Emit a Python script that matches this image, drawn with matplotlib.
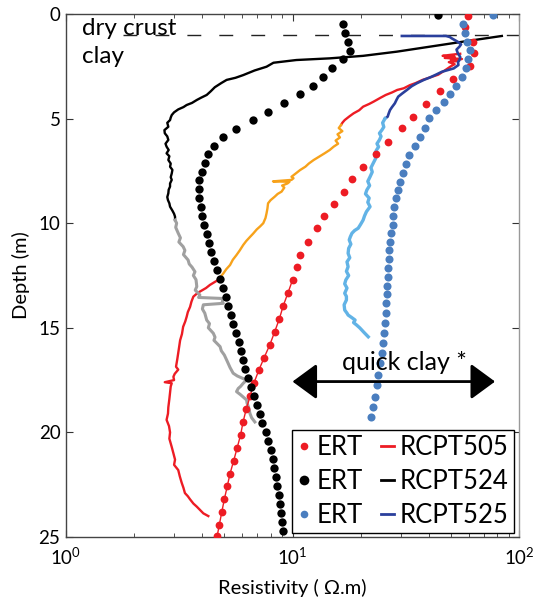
import matplotlib
matplotlib.use('Agg')
import matplotlib.pyplot as plt
import numpy as np
from matplotlib.ticker import FixedLocator, FuncFormatter, LogLocator, NullFormatter
from matplotlib.lines import Line2D

plt.rcParams['font.family'] = ['Lato', 'DejaVu Sans']
plt.rcParams['mathtext.default'] = 'regular'

# ---------------- data ----------------
# ERT profiles (depth in m, resistivity in ohm.m)
ert_red_depth = [0.08, 0.64, 1.32, 1.88, 2.49, 3.11, 3.67, 4.30, 4.91, 5.46, 6.10, 6.69, 7.30, 7.90,
                 8.49, 9.08, 9.66, 10.24, 10.88, 11.52, 12.11, 12.72, 13.33, 13.95, 14.57, 15.18,
                 15.8, 16.42, 17.03, 17.65, 18.27, 18.88, 19.5, 20.12, 20.73, 21.35, 21.97, 22.58,
                 23.2, 23.82, 24.43, 24.95]
ert_red_res = [59.5, 58, 62.7, 63.6, 60.8, 51.3, 45, 39, 34, 30.5, 26.5, 23.4, 20.5, 18.4,
               16.8, 15.2, 13.8, 12.8, 11.7, 10.8, 10.45, 10.0, 9.55, 9.1, 8.75, 8.35,
               7.95, 7.5, 7.1, 6.75, 6.5, 6.25, 6.05, 5.9, 5.7, 5.5, 5.3, 5.15,
               5.0, 4.87, 4.75, 4.65]

ert_black_depth = [0.05, 0.48, 0.92, 1.32, 1.75, 2.17, 2.6, 3.0, 3.44, 3.84, 4.27, 4.67, 5.07, 5.5,
                   5.89, 6.3, 6.71, 7.14, 7.54, 7.93, 8.36, 8.79, 9.22, 9.65, 10.08, 10.51, 10.94,
                   11.37, 11.8, 12.23, 12.66, 13.09, 13.52, 13.95, 14.38, 14.81, 15.24, 15.67, 16.1,
                   16.53, 16.96, 17.39, 17.82, 18.25, 18.68, 19.11, 19.54, 19.97, 20.4, 20.83, 21.26,
                   21.69, 22.12, 22.55, 22.98, 23.41, 23.84, 24.27, 24.7]
ert_black_res = [44, 16.7, 17.1, 17.5, 17.95, 16.7, 14.9, 13.6, 12.35, 10.8, 9.2, 7.77, 6.67, 5.62,
                 4.92, 4.52, 4.25, 4.11, 3.97, 3.88, 3.87, 3.88, 3.94, 4.0, 4.08, 4.18, 4.28,
                 4.38, 4.5, 4.65, 4.8, 4.92, 5.07, 5.2, 5.33, 5.46, 5.62, 5.78, 5.92,
                 6.06, 6.2, 6.36, 6.55, 6.75, 6.97, 7.15, 7.35, 7.6, 7.82, 8.0, 8.17,
                 8.32, 8.45, 8.58, 8.72, 8.84, 8.94, 9.03, 9.1]

ert_blue_depth = [0.05, 0.48, 0.9, 1.33, 1.72, 2.17, 2.6, 2.99, 3.44, 3.82, 4.19, 4.59, 4.99, 5.43,
                  5.86, 6.31, 6.74, 7.17, 7.59, 8.02, 8.41, 8.81, 9.21, 9.66, 10.09, 10.48, 10.88,
                  11.28, 11.73, 12.16, 12.56, 12.99, 13.38, 13.83, 14.31, 14.79, 15.26, 15.74, 16.22,
                  16.7, 17.26, 17.73, 18.29, 18.77, 19.25]
ert_blue_res = [76.8, 56.6, 57.5, 59.0, 60.8, 59.6, 58.3, 56.2, 52.9, 49.6, 46.5, 42.9, 40.0, 38.5,
                36.6, 34.7, 32.7, 31.6, 30.6, 29.8, 29.1, 28.6, 28.2, 27.9, 27.7, 27.3, 26.95,
                26.8, 26.7, 26.5, 26.3, 26.2, 26.1, 25.9, 25.8, 25.6, 25.3, 25.0, 24.8,
                24.3, 23.9, 23.5, 23.1, 22.7, 22.3]

# RCPT505: upper part, quick-clay part (orange), lower part
r505_top_depth = [1.9, 1.95, 2.0, 2.05, 2.1, 2.15, 2.2, 2.25, 2.3, 2.4, 2.5, 2.7, 2.9, 3.05, 3.15, 3.3,
                  3.4, 3.55, 3.63, 3.75, 3.87, 4.0, 4.19, 4.3, 4.43, 4.6, 4.75, 4.9, 5.07, 5.2, 5.3]
r505_top_res = [55, 50, 46, 52, 47, 56, 50, 53, 49, 52, 50, 47, 44, 40, 37.5, 35,
                33, 31, 29, 27.5, 25.8, 24.5, 22.8, 21.8, 20.5, 19.7, 18.6, 17.8, 17.0, 16.6, 16.4]
r505_qc_depth = [5.3, 5.45, 5.6, 5.75, 5.9, 6.05, 6.2, 6.34, 6.5, 6.65, 6.8, 6.98, 7.15, 7.3, 7.46, 7.6,
                 7.78, 7.85, 7.93, 8.0, 8.02, 8.1, 8.2, 8.3, 8.49, 8.6, 8.73, 8.9, 9.05, 9.3, 9.53,
                 9.75, 10.0, 10.15, 10.3, 10.5, 10.65, 10.85, 11.04, 11.3, 11.52, 11.75, 12.0, 12.2,
                 12.4, 12.55, 12.71]
r505_qc_res = [16.4, 16.0, 16.6, 15.8, 16.2, 15.5, 15.9, 15.2, 14.6, 13.9, 13.2, 12.4, 11.8, 11.4, 10.8, 10.4,
               9.9, 10.1, 9.9, 8.2, 9.7, 9.5, 9.0, 9.2, 8.95, 8.6, 8.35, 8.0, 7.8, 7.75, 7.68,
               7.6, 7.43, 7.2, 6.95, 6.7, 6.5, 6.25, 6.06, 5.85, 5.66, 5.45, 5.3, 5.1,
               4.95, 4.82, 4.7]
r505_bot_depth = [12.71, 12.95, 13.1, 13.27, 13.4, 13.51, 13.75, 14.0, 14.25, 14.47, 14.7, 14.95, 15.3,
                  15.6, 15.9, 16.2, 16.5, 16.86, 17.0, 17.2, 17.34, 17.5, 17.6, 17.65, 17.8, 18.1, 18.4,
                  18.8, 19.1, 19.4, 19.7, 20.0, 20.3, 20.7, 21.0, 21.3, 21.55, 21.8, 22.1, 22.4, 22.65,
                  22.9, 23.05, 23.2, 23.4, 23.55, 23.7, 23.87, 24.0]
r505_bot_res = [4.7, 4.32, 4.15, 3.9, 3.75, 3.65, 3.58, 3.53, 3.45, 3.41, 3.36, 3.29, 3.25,
                3.19, 3.16, 3.13, 3.1, 3.06, 3.13, 3.02, 2.98, 3.0, 2.73, 2.93, 2.9, 2.88, 2.86,
                2.83, 2.82, 2.78, 2.85, 2.88, 2.86, 2.93, 2.98, 3.03, 3.0, 3.13, 3.18, 3.24, 3.3,
                3.35, 3.45, 3.53, 3.65, 3.78, 3.9, 4.04, 4.25]

# RCPT524: upper part and quick-clay part (grey)
r524_top_depth = [1.05, 1.32, 1.56, 1.8, 2.0, 2.12, 2.2, 2.33, 2.52, 2.7, 2.92, 3.05, 3.15, 3.3, 3.5,
                  3.7, 3.87, 4.0, 4.11, 4.25, 4.35, 4.45, 4.56, 4.7, 4.83, 4.95, 5.07, 5.2, 5.39, 5.55,
                  5.7, 5.85, 6.02, 6.2, 6.34, 6.5, 6.66, 6.8, 6.98, 7.15, 7.3, 7.45, 7.62, 7.8, 7.93,
                  8.1, 8.25, 8.4, 8.57, 8.75, 8.9, 9.05, 9.21, 9.4, 9.55, 9.69, 9.85]
r524_top_res = [84, 56.8, 40.5, 28.9, 20.5, 14.6, 10.4, 8.24, 7.68, 6.8, 6.06, 5.6, 5.12, 4.85, 4.54,
                4.35, 4.18, 3.95, 3.78, 3.6, 3.41, 3.3, 3.13, 3.0, 2.93, 2.9, 2.88, 2.8, 2.83, 2.72,
                2.73, 2.8, 2.83, 2.75, 2.78, 2.84, 2.78, 2.86, 2.83, 2.9, 2.88, 2.95, 2.93, 2.9, 2.93,
                2.88, 2.88, 2.84, 2.83, 2.8, 2.82, 2.86, 2.88, 2.95, 3.0, 3.03, 3.03]
r524_qc_depth = [9.85, 10.0, 10.2, 10.48, 10.7, 10.9, 11.12, 11.3, 11.5, 11.76, 11.95, 12.1, 12.32, 12.5,
                 12.7, 13.03, 13.2, 13.43, 13.55, 13.6, 13.75, 13.83, 13.9, 14.1, 14.3, 14.63, 14.8,
                 15.0, 15.26, 15.45, 15.6, 15.9, 16.1, 16.3, 16.54, 16.7, 16.9, 17.17, 17.3, 17.5,
                 17.65, 17.8, 17.9, 18.05, 18.2, 18.45, 18.6, 18.8, 19.1, 19.3, 19.5]
r524_qc_res = [3.03, 3.08, 3.05, 3.13, 3.2, 3.15, 3.29, 3.35, 3.3, 3.46, 3.5, 3.6, 3.71, 3.65,
               3.75, 3.78, 3.72, 3.9, 3.85, 4.95, 4.9, 4.95, 4.04, 4.0, 4.1, 4.18, 4.3,
               4.25, 4.47, 4.55, 4.5, 4.79, 4.85, 5.0, 5.12, 5.2, 5.3, 5.47, 5.7, 6.27,
               6.06, 5.9, 5.76, 5.66, 5.9, 6.27, 6.3, 6.4, 6.49, 6.6, 6.82]

# RCPT525: upper part and quick-clay part (light blue)
r525_top_depth = [1.05, 1.05, 1.1, 1.16, 1.32, 1.45, 1.56, 1.7, 1.88, 2.05, 2.2, 2.3, 2.44, 2.6, 2.76,
                  2.9, 3.03, 3.15, 3.31, 3.45, 3.63, 3.8, 3.95, 4.1, 4.27, 4.45, 4.59, 4.75, 4.91, 5.0]
r525_top_res = [30.4, 47.6, 49.5, 50.4, 53.5, 55.5, 54.6, 53.0, 53.7, 55.0, 54.6, 53.8, 54.0, 51.5, 45.7,
                43.0, 40.5, 38.0, 35.4, 33.6, 32.0, 30.5, 29.3, 28.8, 28.3, 27.5, 26.95, 26.6, 26.3, 25.6]
r525_qc_depth = [5.0, 5.2, 5.4, 5.55, 5.7, 5.85, 6.02, 6.2, 6.35, 6.5, 6.7, 6.9, 7.14, 7.35, 7.55, 7.78,
                 8.0, 8.2, 8.41, 8.6, 8.8, 9.0, 9.21, 9.45, 9.65, 9.85, 10.05, 10.24, 10.35, 10.48,
                 10.65, 10.8, 11.0, 11.2, 11.44, 11.65, 11.85, 12.08, 12.3, 12.5, 12.71, 12.9, 13.1,
                 13.35, 13.5, 13.67, 13.9, 14.15, 14.3, 14.39, 14.5, 14.63, 14.75, 14.87, 15.0, 15.1,
                 15.2, 15.34, 15.43]
r525_qc_res = [25.6, 25.0, 25.3, 24.8, 24.2, 24.6, 24.2, 23.6, 24.0, 23.5, 23.0, 23.3, 22.7, 22.2, 22.5, 22.0,
               21.5, 21.9, 21.3, 21.0, 21.8, 21.5, 22.0, 21.2, 20.8, 20.5, 20.0, 19.5, 18.8, 18.3,
               18.0, 17.8, 18.1, 17.7, 17.6, 17.9, 17.4, 17.6, 17.3, 17.7, 17.2, 17.0, 17.4,
               17.0, 17.3, 17.3, 16.9, 17.0, 17.4, 17.6, 18.2, 18.9, 18.6, 19.2, 19.8, 20.2,
               20.6, 21.2, 21.6]

crust_depth = 1.0
quick_clay_range = [10, 78.4]
quick_clay_depth = 17.57

x_ticks = [1, 10, 100]
y_ticks = [0, 5, 10, 15, 20, 25]
legend_labels = ['ERT', 'ERT', 'ERT', 'RCPT505', 'RCPT524', 'RCPT525']

# ---------------- styles ----------------
RED = '#ED1C24'
BLACK = '#000000'
BLUE_DOT = '#4A7EBF'
BLUE_LINE = '#2A3F9C'
LIGHT_BLUE = '#62B3E6'
ORANGE = '#F7A21B'
GREY = '#A0A0A0'

fig = plt.figure(figsize=(5.33, 6.01), dpi=100)
ax = fig.add_axes([66 / 533, 1 - 537 / 601, 453 / 533, 523 / 601])

# RCPT lines
ax.plot(r505_top_res, r505_top_depth, color=RED, lw=1.7, zorder=2)
ax.plot(r505_qc_res, r505_qc_depth, color=ORANGE, lw=1.7, zorder=2)
ax.plot(r505_bot_res, r505_bot_depth, color=RED, lw=1.7, zorder=2)
ax.plot(r524_top_res, r524_top_depth, color=BLACK, lw=1.7, zorder=2)
ax.plot(r524_qc_res, r524_qc_depth, color=GREY, lw=2.2, zorder=2)
ax.plot(r525_top_res, r525_top_depth, color=BLUE_LINE, lw=1.9, zorder=2)
ax.plot(r525_qc_res, r525_qc_depth, color=LIGHT_BLUE, lw=2.4, zorder=2)

# ERT dots
red_d = np.array(ert_red_depth)
red_r = np.array(ert_red_res)
low = red_d >= 12.7
ax.plot(red_r[low], red_d[low], color=RED, lw=1.0, zorder=3)
ax.plot(red_r, red_d, 'o', color=RED, ms=5.6, mew=0, zorder=4)
ax.plot(ert_black_res, ert_black_depth, 'o', color=BLACK, ms=6.0, mew=0, zorder=4)
ax.plot(ert_blue_res, ert_blue_depth, 'o', color=BLUE_DOT, ms=5.8, mew=0, zorder=4)

# dry crust boundary
dash, = ax.plot([1.79, 100], [crust_depth, crust_depth], color='#222222', lw=1.0, zorder=1)
dash.set_dashes([10, 13])

ax.set_xscale('log')
ax.set_xlim(1, 100)
ax.set_ylim(25, 0)

ax.xaxis.set_major_locator(FixedLocator(x_ticks))
ax.xaxis.set_minor_locator(LogLocator(base=10, subs=np.arange(2, 10), numticks=10))
ax.xaxis.set_minor_formatter(NullFormatter())
ax.xaxis.set_major_formatter(FuncFormatter(lambda v, p: r'$10^{%d}$' % int(round(np.log10(v)))))
ax.set_yticks(y_ticks)

ax.tick_params(which='both', direction='in', top=True, right=True, colors='#333333')
ax.tick_params(which='major', length=5, width=0.8, labelsize=13.5, labelcolor='black')
ax.tick_params(axis='x', which='major', pad=7)
ax.tick_params(axis='y', which='major', pad=4)
ax.tick_params(which='minor', length=3, width=0.6)
for s in ax.spines.values():
    s.set_color('#444444')
    s.set_linewidth(1.0)
ax.spines['right'].set_color('#999999')

ax.set_xlabel('Resistivity ( Ω.m)', fontsize=14.5, labelpad=8)
ax.set_ylabel('Depth (m)', fontsize=14.5, labelpad=6)

# annotations
ax.text(1.177, crust_depth, 'dry crust', fontsize=17.5, va='baseline', ha='left', zorder=5)
ax.text(1.177, 2.33, 'clay', fontsize=17.5, va='baseline', ha='left', zorder=5)
ax.text(16.5, 17.0, 'quick clay *', fontsize=18, va='baseline', ha='left', zorder=5)
ax.annotate('', xy=(quick_clay_range[1], quick_clay_depth), xytext=(quick_clay_range[0], quick_clay_depth),
            arrowprops=dict(arrowstyle='<|-|>,head_length=0.75,head_width=0.55', mutation_scale=20,
                            lw=2, color='black', shrinkA=0, shrinkB=0), zorder=5)

# legend
handles = [
    Line2D([], [], ls='none', marker='o', color=RED, ms=5.5, mew=0),
    Line2D([], [], ls='none', marker='o', color=BLACK, ms=7, mew=0),
    Line2D([], [], ls='none', marker='o', color=BLUE_DOT, ms=5.5, mew=0),
    Line2D([], [], color=RED, lw=2),
    Line2D([], [], color=BLACK, lw=2),
    Line2D([], [], color=BLUE_LINE, lw=2),
]
leg = ax.legend(handles, legend_labels, ncol=2, loc='lower right', bbox_to_anchor=(0.989, 0.008),
                frameon=True, fancybox=False, edgecolor='black', framealpha=1, fontsize=18.5,
                handlelength=0.5, handletextpad=0.25, columnspacing=0.7, borderpad=0.2,
                labelspacing=0.35, borderaxespad=0)
leg.get_frame().set_linewidth(1.0)
leg.set_zorder(6)

fig.savefig('out.png', dpi=100)
